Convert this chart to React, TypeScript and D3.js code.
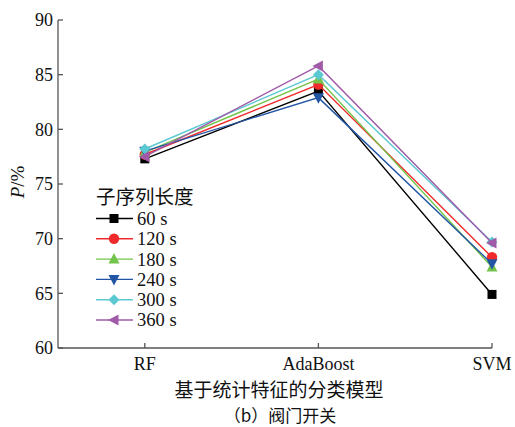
import React from "react";
import * as d3 from "d3";

const categories = ["RF", "AdaBoost", "SVM"];
const seriesNames = ["60 s", "120 s", "180 s", "240 s", "300 s", "360 s"];
const s60 = [77.3, 83.5, 64.9];
const s120 = [77.7, 84.1, 68.3];
const s180 = [77.9, 84.6, 67.4];
const s240 = [78.0, 82.9, 67.7];
const s300 = [78.2, 85.0, 69.7];
const s360 = [77.5, 85.8, 69.6];
const seriesValues = [s60, s120, s180, s240, s300, s360];
const seriesColors = ["#000000", "#f02a2a", "#72c44a", "#2355a5", "#5cc8d2", "#a05aa8"];
const seriesShapes = ["square", "circle", "triUp", "triDown", "diamond", "triLeft"];
const yTicks = [60, 65, 70, 75, 80, 85, 90];
const legendTitle = "子序列长度";
const xTitle = "基于统计特征的分类模型";
const caption = "（b）阀门开关";

const serif = "'Liberation Serif', 'Times New Roman', serif";
const cjk = "'Noto Sans CJK SC', sans-serif";

function Marker({ shape, x, y, color }: { shape: string; x: number; y: number; color: string }) {
  const s = 5.5;
  if (shape === "square") return <rect x={x - 4.5} y={y - 4.5} width={9} height={9} fill={color} />;
  if (shape === "circle") return <circle cx={x} cy={y} r={5.2} fill={color} />;
  let pts: [number, number][] = [];
  if (shape === "triUp") pts = [[x, y - s - 0.5], [x - s, y + s - 1], [x + s, y + s - 1]];
  if (shape === "triDown") pts = [[x, y + s + 0.5], [x - s, y - s + 1], [x + s, y - s + 1]];
  if (shape === "triLeft") pts = [[x - s - 0.5, y], [x + s - 1, y - s], [x + s - 1, y + s]];
  if (shape === "diamond") pts = [[x, y - s], [x + s, y], [x, y + s], [x - s, y]];
  return <polygon points={pts.map((p) => p.join(",")).join(" ")} fill={color} />;
}

export default function App() {
  const W = 515, H = 427;
  const left = 58, right = 492, top = 20, bottom = 348;
  const x = d3.scaleLinear().domain([0, 2.5]).range([left, right]);
  const y = d3.scaleLinear().domain([60, 90]).range([bottom, top]);
  const xPos = (i: number) => x(i + 0.5);
  const line = d3.line<number>().x((_, i) => xPos(i)).y((d) => y(d));
  const axisColor = "#555";
  const legX = 96, legY0 = 218.5, legDy = 20.3;

  return (
    <svg width={W} height={H} style={{ position: "absolute", left: 0, top: 0, background: "#fff" }}>
      {/* axes */}
      <line x1={left} y1={top} x2={left} y2={bottom} stroke={axisColor} strokeWidth={1.3} />
      <line x1={left} y1={bottom} x2={right} y2={bottom} stroke={axisColor} strokeWidth={1.3} />
      {yTicks.map((t) => (
        <g key={t}>
          <line x1={left} x2={left + 5} y1={y(t)} y2={y(t)} stroke={axisColor} strokeWidth={1.3} />
          <text x={left - 5} y={y(t)} dy="0.35em" textAnchor="end" fontFamily={serif} fontSize={18} fill="#111">
            {t}
          </text>
        </g>
      ))}
      {categories.map((c, i) => (
        <g key={c}>
          <line x1={xPos(i)} x2={xPos(i)} y1={bottom} y2={bottom - 5} stroke={axisColor} strokeWidth={1.3} />
          <text x={xPos(i)} y={bottom + 22} textAnchor="middle" fontFamily={serif} fontSize={18} fill="#111">
            {c}
          </text>
        </g>
      ))}
      <text x={279} y={396.5} textAnchor="middle" fontFamily={cjk} fontSize={19} fill="#111">
        {xTitle}
      </text>
      <text x={280} y={422} textAnchor="middle" fontFamily={cjk} fontSize={17} fill="#111">
        {caption}
      </text>
      <text transform="translate(24,182) rotate(-90)" textAnchor="middle" fontFamily={serif} fontSize={19} fill="#111">
        <tspan fontStyle="italic">P</tspan>/%
      </text>

      {/* series */}
      {seriesValues.map((vals, k) => (
        <g key={k}>
          <path d={line(vals) || ""} fill="none" stroke={seriesColors[k]} strokeWidth={1.4} />
          {vals.map((v, i) => (
            <Marker key={i} shape={seriesShapes[k]} x={xPos(i)} y={y(v)} color={seriesColors[k]} />
          ))}
        </g>
      ))}

      {/* legend */}
      <text x={legX} y={204} fontFamily={cjk} fontSize={19.5} fill="#111">
        {legendTitle}
      </text>
      {seriesNames.map((n, k) => {
        const ly = legY0 + k * legDy;
        return (
          <g key={n}>
            <line x1={legX} x2={legX + 37} y1={ly} y2={ly} stroke={seriesColors[k]} strokeWidth={1.4} />
            <Marker shape={seriesShapes[k]} x={legX + 18} y={ly} color={seriesColors[k]} />
            <text x={legX + 41} y={ly} dy="0.35em" fontFamily={serif} fontSize={18.5} fill="#111">
              {n}
            </text>
          </g>
        );
      })}
    </svg>
  );
}
